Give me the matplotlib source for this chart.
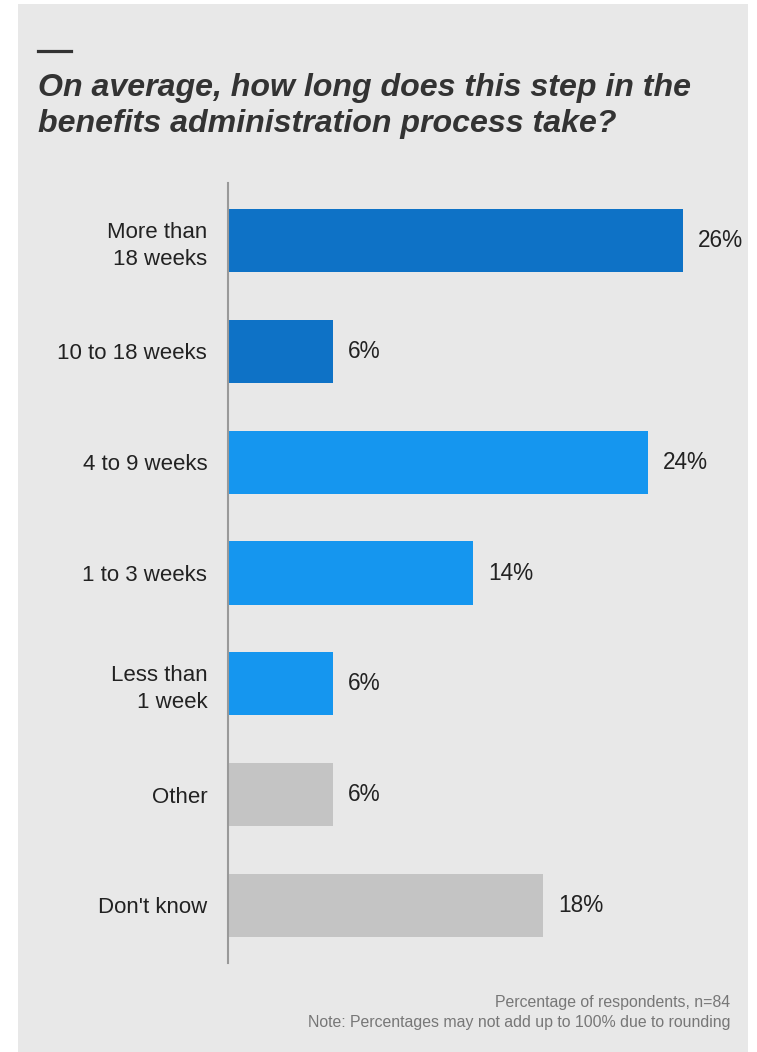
import matplotlib.pyplot as plt
from matplotlib.patches import Rectangle

# Data
categories = ['More than\n18 weeks', '10 to 18 weeks', '4 to 9 weeks', '1 to 3 weeks',
              'Less than\n1 week', 'Other', "Don't know"]
values = [26, 6, 24, 14, 6, 6, 18]
value_labels = ['26%', '6%', '24%', '14%', '6%', '6%', '18%']
bar_colors = ['#0E72C6', '#0E72C6', '#1596EF', '#1596EF', '#1596EF', '#C4C4C4', '#C4C4C4']

title_lines = ['On average, how long does this step in the',
               'benefits administration process take?']
note1 = 'Percentage of respondents, n=84'
note2 = 'Note: Percentages may not add up to 100% due to rounding'

plt.rcParams['font.family'] = ['Liberation Sans', 'DejaVu Sans']

W, H = 757, 1052
fig = plt.figure(figsize=(W / 100, H / 100), dpi=100)
fig.patch.set_facecolor('white')

# grey panel behind everything (runs to the bottom edge)
fig.patches.append(Rectangle((18 / W, 0), (748 - 18) / W, (H - 4) / H,
                             transform=fig.transFigure, facecolor='#E8E8E8',
                             edgecolor='none', zorder=-5))

# short dash above title
fig.add_artist(plt.Line2D([38 / W, 71 / W], [1 - 51 / H, 1 - 51 / H],
                          transform=fig.transFigure, color='#333333', linewidth=2.3))

for line, base in zip(title_lines, [96, 132]):
    fig.text(38 / W, 1 - base / H, line, ha='left', va='baseline', fontsize=23.1,
             fontstyle='italic', fontweight='bold', color='#333333')

# axes: left edge at the axis line, px per percent ~17.5
ax_left, ax_right = 228, 748
ax_top, ax_bot = 183, 963
ax = fig.add_axes([ax_left / W, 1 - ax_bot / H, (ax_right - ax_left) / W, (ax_bot - ax_top) / H])
ax.set_zorder(2)
ax.set_facecolor('none')
ax.set_xlim(0, (ax_right - ax_left) / 17.5)
ax.set_ylim(6.52, -0.52)

y = list(range(len(categories)))
ax.barh(y, values, height=0.57, color=bar_colors, zorder=2)

for yi, v, lab in zip(y, values, value_labels):
    ax.text(v + 0.85, yi, lab, ha='left', va='center', fontsize=16.3, color='#222222')

ax.set_yticks(y)
ax.set_yticklabels(categories, fontsize=16, color='#222222', linespacing=1.38)
ax.tick_params(axis='y', length=0, pad=15)
ax.set_xticks([])

for s in ['top', 'right', 'bottom']:
    ax.spines[s].set_visible(False)
ax.spines['left'].set_color('#999999')
ax.spines['left'].set_linewidth(1.5)

fig.text(730 / W, 1 - 1003 / H, note1, ha='right', va='center', fontsize=11.4, color='#777777')
fig.text(730 / W, 1 - 1022 / H, note2, ha='right', va='center', fontsize=11.4, color='#777777')

fig.savefig('out.png', dpi=100, facecolor=fig.get_facecolor())
